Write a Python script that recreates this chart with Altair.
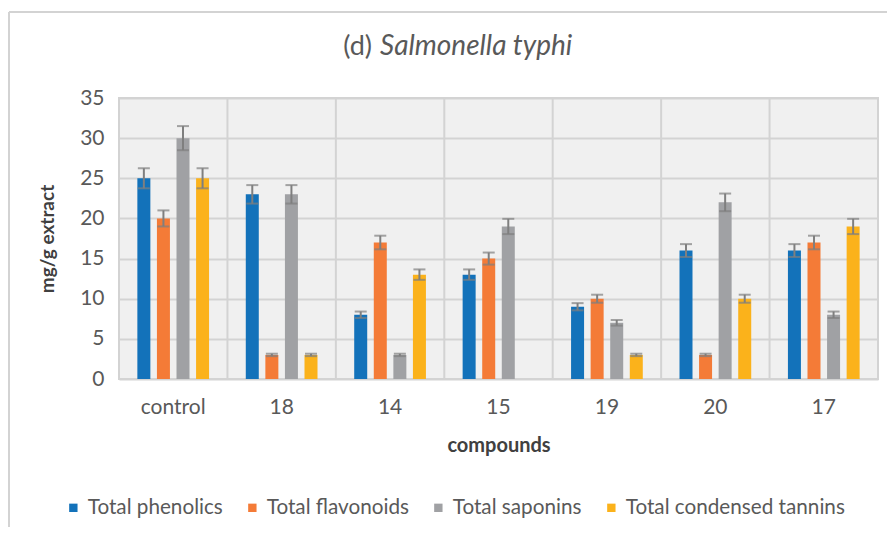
import altair as alt
import pandas as pd

categories = ["control", "18", "14", "15", "19", "20", "17"]
series_names = ["Total phenolics", "Total flavonoids", "Total saponins", "Total condensed tannins"]
colors = ["#1372BA", "#F47B37", "#A0A1A4", "#FBB21B"]

phenolics = [25, 23, 8, 13, 9, 16, 16]
flavonoids = [20, 3, 17, 15, 10, 3, 17]
saponins = [30, 23, 3, 19, 7, 22, 8]
tannins = [25, 3, 13, None, 3, 10, 19]

phenolics_err = [1.25, 1.15, 0.4, 0.65, 0.45, 0.8, 0.8]
flavonoids_err = [1.0, 0.15, 0.85, 0.75, 0.5, 0.15, 0.85]
saponins_err = [1.5, 1.15, 0.15, 0.95, 0.35, 1.1, 0.4]
tannins_err = [1.25, 0.15, 0.65, None, 0.15, 0.5, 0.95]

y_ticks = [0, 5, 10, 15, 20, 25, 30, 35]

rows = []
for name, vals, errs in zip(series_names,
                            [phenolics, flavonoids, saponins, tannins],
                            [phenolics_err, flavonoids_err, saponins_err, tannins_err]):
    for c, v, e in zip(categories, vals, errs):
        if v is None:
            continue
        rows.append({"compound": c, "series": name, "value": v,
                     "lo": v - e, "hi": v + e})
df = pd.DataFrame(rows)

FONT = "Lato"
TXT = "#595959"
GRID = "#D3D3D3"
W, H = 759, 281

x_enc = alt.X("compound:N", sort=categories,
              scale=alt.Scale(paddingInner=0, paddingOuter=0),
              axis=alt.Axis(title="compounds", labelAngle=0, labelAlign="center",
                            ticks=False, domain=False,
                            labelPadding=28, titlePadding=18, labelFontSize=21,
                            titleFontSize=20, titleFontWeight="bold",
                            labelColor=TXT, titleColor="#404040", grid=False))
xo_enc = alt.XOffset("series:N", sort=series_names,
                     scale=alt.Scale(paddingInner=0.33, paddingOuter=0.935))
color_enc = alt.Color("series:N", sort=series_names,
                      scale=alt.Scale(domain=series_names, range=colors),
                      legend=alt.Legend(title=None, orient="none", direction="horizontal",
                                        legendX=-56, legendY=399,
                                        symbolType="square", symbolSize=70,
                                        symbolStrokeWidth=0, labelFontSize=20.7,
                                        labelColor=TXT, columnPadding=19,
                                        symbolOffset=0, labelOffset=4,
                                        labelLimit=300))

base = alt.Chart(df)

bars = base.mark_bar(size=13).encode(
    x=x_enc,
    xOffset=xo_enc,
    y=alt.Y("value:Q", scale=alt.Scale(domain=[0, 35], nice=False),
            axis=alt.Axis(title="mg/g extract", values=y_ticks, ticks=False, domain=False,
                          labelPadding=15, labelFontSize=21, labelColor=TXT,
                          titleFontSize=19, titleFontWeight="bold", titleColor="#404040",
                          titlePadding=22, gridColor=GRID, gridWidth=2)),
    color=color_enc,
)

err_rule = base.mark_rule(color="#7F7F7F", strokeWidth=2).encode(
    x=alt.X("compound:N", sort=categories),
    xOffset=alt.XOffset("series:N", sort=series_names),
    y="lo:Q", y2="hi:Q",
)
err_lo = base.mark_tick(color="#7F7F7F", thickness=2, size=12).encode(
    x=alt.X("compound:N", sort=categories),
    xOffset=alt.XOffset("series:N", sort=series_names),
    y="lo:Q",
)
err_hi = base.mark_tick(color="#7F7F7F", thickness=2, size=12).encode(
    x=alt.X("compound:N", sort=categories),
    xOffset=alt.XOffset("series:N", sort=series_names),
    y="hi:Q",
)

cat_df = pd.DataFrame({"compound": categories})
vlines = alt.Chart(cat_df).mark_rule(color=GRID, strokeWidth=2).encode(
    x=alt.X("compound:N", sort=categories, bandPosition=0)
)

title_df = pd.DataFrame({"a": ["(d)"], "b": ["Salmonella typhi"]})
t1 = alt.Chart(title_df).mark_text(font=FONT, fontSize=27, color=TXT, align="right",
                                    baseline="middle").encode(
    x=alt.value(253), y=alt.value(-51), text="a:N")
t2 = alt.Chart(title_df).mark_text(font=FONT, fontSize=28, color=TXT, align="left",
                                    baseline="middle", fontStyle="italic").encode(
    x=alt.value(261), y=alt.value(-51), text="b:N")

frame_left = alt.Chart(title_df).mark_rule(stroke=GRID, strokeWidth=2, clip=False).encode(
    x=alt.value(-110), y=alt.value(-86), y2=alt.value(440))
frame_top = alt.Chart(title_df).mark_rule(stroke=GRID, strokeWidth=2, clip=False).encode(
    x=alt.value(-110), x2=alt.value(780), y=alt.value(-86))

chart = alt.layer(frame_left, frame_top, vlines, bars, err_rule, err_lo, err_hi,
                  t1, t2).properties(
    width=W, height=H,
    autosize=alt.AutoSizeParams(type="none"),
    padding={"left": 111, "top": 90, "right": 9, "bottom": 148},
).configure(
    font=FONT
).configure_view(
    fill="#F0F0F0", stroke=GRID, strokeWidth=2
)

chart.save("out.html", embed_options={"renderer": "svg", "actions": False})
